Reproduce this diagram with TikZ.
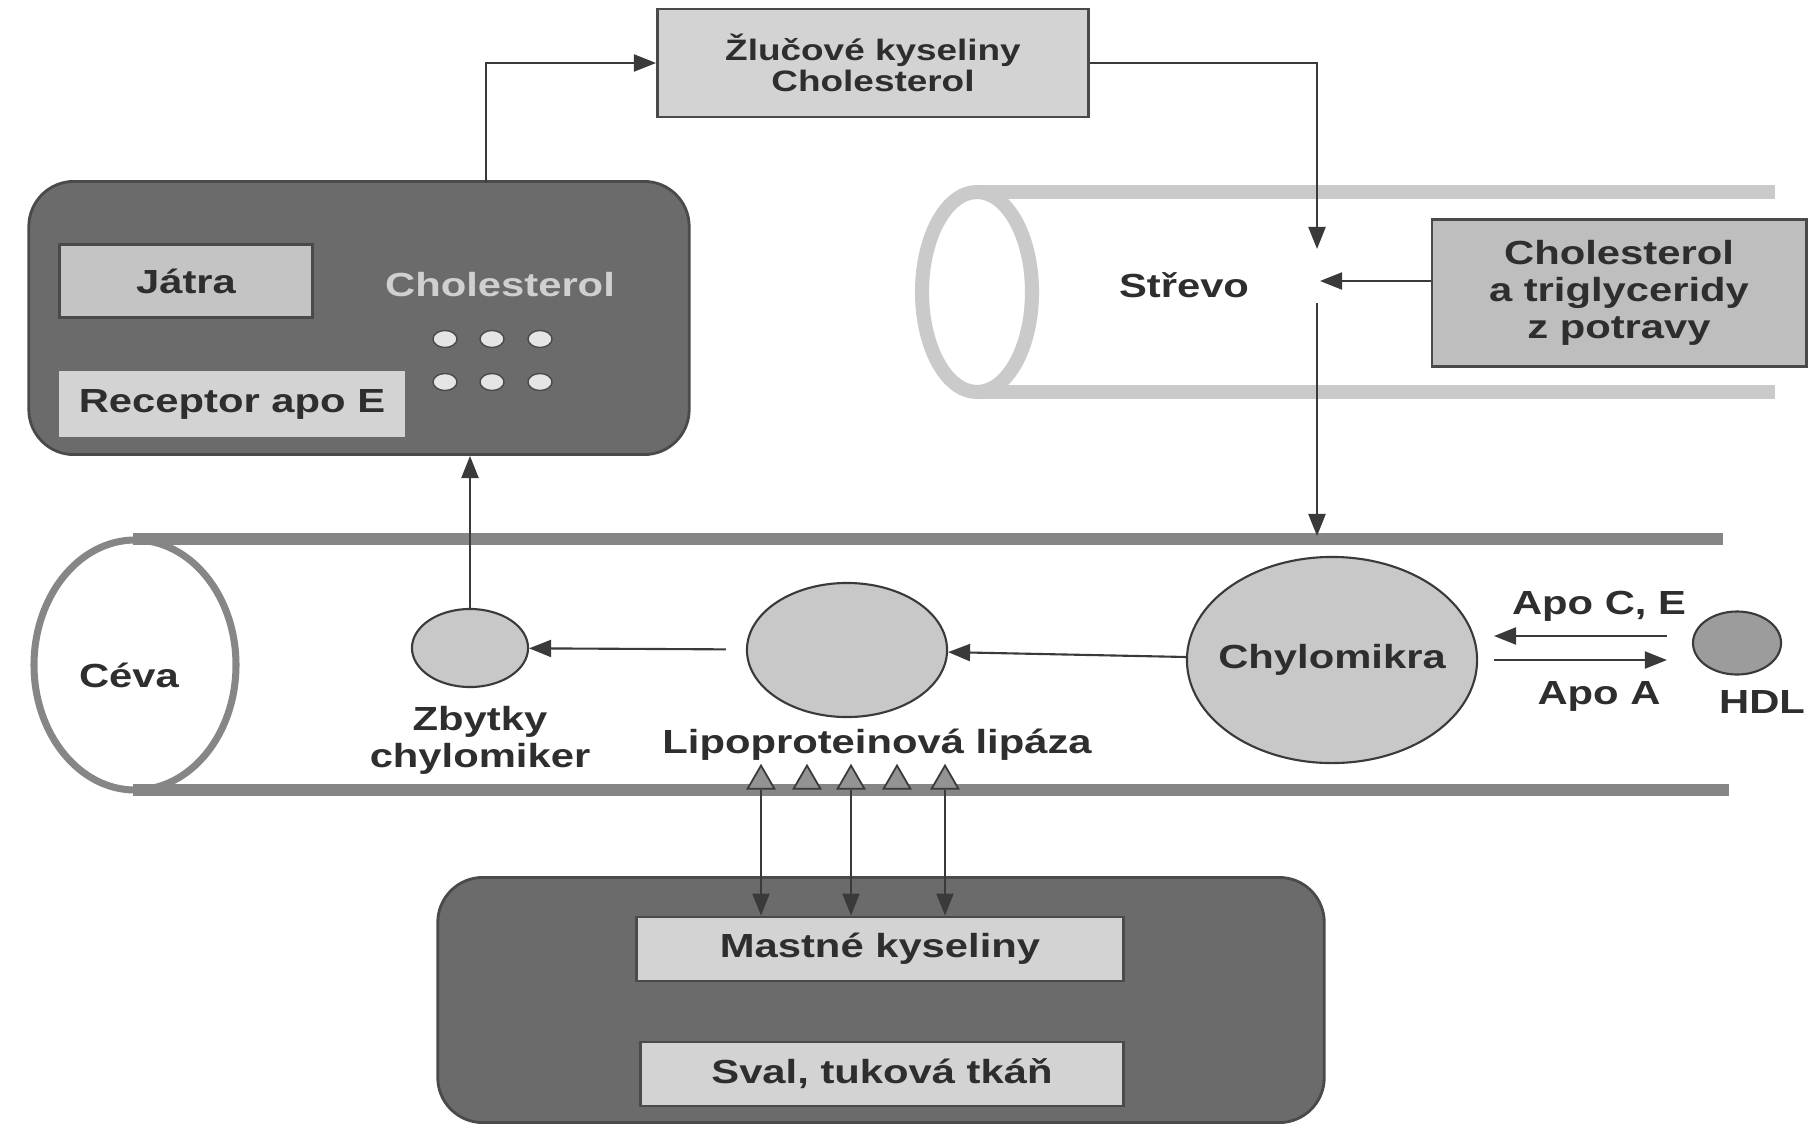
\documentclass[tikz,border=0pt]{standalone}
\usepackage{fontspec}
\setmainfont{Liberation Sans}[FakeStretch=1.25]
\usetikzlibrary{arrows.meta,shapes.geometric}
\definecolor{ink}{HTML}{2E2E2E}
\definecolor{linec}{HTML}{3A3A3A}
\definecolor{organ}{HTML}{6B6B6B}
\definecolor{organedge}{HTML}{4A4A4A}
\definecolor{tagfill}{HTML}{D3D3D3}
\definecolor{tagdark}{HTML}{C4C4C4}
\definecolor{foodfill}{HTML}{BEBEBE}
\definecolor{palec}{HTML}{D0D0D0}
\definecolor{partfill}{HTML}{C8C8C8}
\definecolor{hdlfill}{HTML}{9C9C9C}
\definecolor{gutgray}{HTML}{CACACA}
\definecolor{veingray}{HTML}{868686}
\begin{document}
\begin{tikzpicture}[x=0.01cm,y=-0.01cm,
  font=\fontsize{9.5}{10.5}\selectfont\bfseries,text=ink,
  arr/.style={draw=linec,line width=0.6pt,-{Triangle[length=0.22cm,width=0.17cm]}},
  organbox/.style={draw=organedge,fill=organ,rounded corners=0.45cm,line width=0.8pt},
  tag/.style={draw=organedge,fill=tagfill,line width=0.8pt,inner sep=0pt,align=center},
  particle/.style={ellipse,draw=linec,fill=partfill,inner sep=0pt,line width=0.6pt},
  fatdot/.style={ellipse,draw=organedge,fill=gray!20,inner sep=0pt,
    minimum width=0.24cm,minimum height=0.17cm},
  lpl/.style={regular polygon,regular polygon sides=3,draw=linec,fill=gray!85,
    inner sep=0pt,minimum size=0.31cm,line width=0.5pt},
  gut/.style={draw=gutgray,line width=4pt},
  vein/.style={draw=veingray,line width=3.3pt}]

\useasboundingbox[fill=white] (0,0) rectangle (1816,1127);

% strevo
\draw[gut] (977,292) ellipse [x radius=55, y radius=100];
\draw[gut] (977,192) -- (1775,192);
\draw[gut] (977,392) -- (1775,392);

% ceva
\draw[vein] (133,539) -- (1723,539);
\draw[vein] (133,790) -- (1729,790);
\draw[draw=veingray,line width=2pt] (135,665) ellipse [x radius=101, y radius=125];

% jatra
\node[organbox,minimum width=6.6cm,minimum height=2.73cm] (liver) at (359,318) {};
\node[tag,fill=tagdark,minimum width=2.53cm,minimum height=0.73cm] (jatra) at (186,281) {Játra};
\node[tag,draw=none,minimum width=3.45cm,minimum height=0.66cm] (receptor) at (232,404) {Receptor apo E};
\node[text=palec] (lchol) at (500,285) {Cholesterol};
\foreach \r/\yy in {1/339,2/382}
  \foreach \c/\xx in {1/445,2/492,3/540}
    \node[fatdot] (dot\r\c) at (\xx,\yy) {};

\node[tag,minimum width=4.31cm,minimum height=1.08cm,font=\fontsize{8.4}{8.9}\selectfont\bfseries]
  (bile) at (873,63) {Žlučové kyseliny\\Cholesterol};
\node[tag,fill=foodfill,minimum width=3.74cm,minimum height=1.47cm] (food) at (1619,293)
  {Cholesterol\\a triglyceridy\\z potravy};
\node (strevo) at (1184,285) {Střevo};
\node (ceva) at (129,675) {Céva};

% castice
\node[particle,minimum width=2.9cm,minimum height=2.06cm,
  label={[name=chylolbl]center:Chylomikra}] (chylo) at (1332,660) {};
\node[particle,minimum width=2.0cm,minimum height=1.34cm] (mid) at (847,650) {};
\node[particle,minimum width=1.16cm,minimum height=0.78cm] (rem) at (470,648) {};
\node[particle,fill=hdlfill,minimum width=0.88cm,minimum height=0.63cm] (hdl) at (1737,643) {};
\node[align=center] (remlbl) at (480,740) {Zbytky\\chylomiker};
\node (lipaza) at (877,745) {Lipoproteinová lipáza};
\node (apoce) at (1599,606) {Apo C, E};
\node (apoa) at (1599,696) {Apo A};
\node (hdllbl) at (1762,702) {HDL};
\foreach \i/\xx in {1/761,2/807,3/851,4/897,5/945}
  \node[lpl] (lpl\i) at (\xx,781) {};

% sval
\node[organbox,minimum width=8.86cm,minimum height=2.45cm] (tissue) at (881,1000) {};
\node[tag,minimum width=4.87cm,minimum height=0.64cm] (fat) at (880,949) {Mastné kyseliny};
\node[tag,minimum width=4.83cm,minimum height=0.64cm] (muscle) at (882,1074) {Sval, tuková tkáň};

% sipky
\coordinate (lvout) at (486,182);
\coordinate (gutin) at (1317,249);
\coordinate (gutmid) at (1320,281);
\coordinate (gutout) at (1317,303);
\coordinate (vesin) at (1317,536);
\coordinate (apoup) at (1494,636);
\coordinate (apodn) at (1494,660);
\draw[arr] (lvout) |- (bile.west);
\draw[arr] (bile.east) -| (gutin);
\draw[arr] (food.west |- gutmid) -- (gutmid);
\draw[arr] (gutout) -- (vesin);
\draw[arr] (chylo) -- (mid);
\draw[arr,shorten <=0.2cm] (mid) -- (rem);
\draw[arr] (rem) -- (rem |- liver.south);
\draw[arr,shorten <=0.25cm] (hdl.west |- apoup) -- (apoup);
\draw[arr,shorten >=0.25cm] (apodn) -- (hdl.west |- apodn);
\foreach \i in {1,3,5}
  \draw[arr] (lpl\i.south) -- (lpl\i.south |- fat.north);
\end{tikzpicture}
\end{document}
